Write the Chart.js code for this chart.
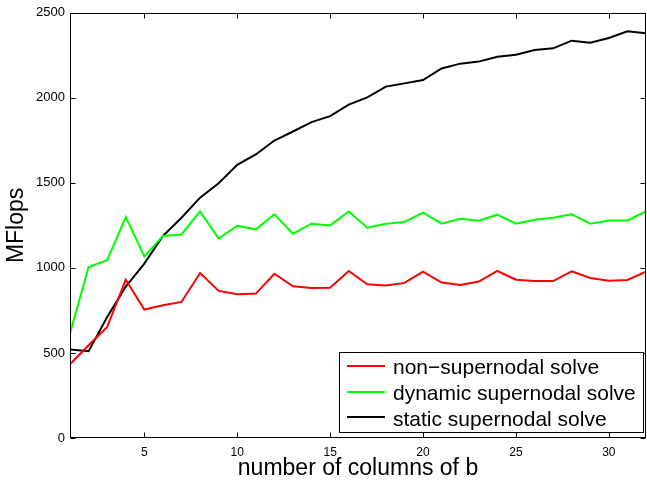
<!DOCTYPE html>
<html>
<head>
<meta charset="utf-8">
<script src="https://cdn.jsdelivr.net/npm/chart.js@4"></script>
<style>
html,body{margin:0;padding:0;background:#fff;}
#wrap{width:647px;height:483px;position:relative;}
</style>
</head>
<body>
<div id="wrap"><canvas id="c" width="647" height="483"></canvas></div>
<script>
const columns = [1,2,3,4,5,6,7,8,9,10,11,12,13,14,15,16,17,18,19,20,21,22,23,24,25,26,27,28,29,30,31,32];
const nonSupernodal = [434,545,653,931,755,781,800,970,865,845,849,966,892,882,884,982,904,896,912,978,914,900,920,982,931,923,923,980,941,925,929,978];
const dynamicSupernodal = [615,1005,1045,1299,1068,1188,1197,1332,1172,1248,1227,1315,1201,1260,1250,1332,1236,1260,1270,1325,1260,1289,1277,1313,1260,1283,1295,1315,1260,1279,1279,1332];
const staticSupernodal = [520,510,712,890,1025,1188,1295,1413,1498,1606,1667,1749,1802,1857,1892,1960,2003,2066,2085,2105,2173,2201,2213,2242,2254,2281,2291,2336,2324,2352,2391,2379];
const seriesLabels = ['non\u2212supernodal solve','dynamic supernodal solve','static supernodal solve'];
const seriesColors = ['#ff0000','#00ff00','#000000'];
const xTicks = [5,10,15,20,25,30];
const yTicks = [0,500,1000,1500,2000,2500];
const xTitle = 'number of columns of b';
const yTitle = 'MFlops';

const FONT = 'Liberation Sans, Arial, Helvetica, sans-serif';

const seriesData = [nonSupernodal, dynamicSupernodal, staticSupernodal];
const datasets = seriesData.map((vals, i) => ({
  label: seriesLabels[i],
  data: columns.map((x, j) => ({x: x, y: vals[j]})),
  borderColor: seriesColors[i],
  backgroundColor: seriesColors[i],
  borderWidth: 2,
  pointRadius: 0,
  tension: 0,
  fill: false
}));

const framePlugin = {
  id: 'frame',
  afterDatasetsDraw(chart) {
    const ctx = chart.ctx;
    const a = chart.chartArea;
    const xs = chart.scales.x, ys = chart.scales.y;
    ctx.save();
    ctx.strokeStyle = '#000';
    ctx.lineWidth = 1;
    const L = Math.round(a.left) + 0.5, R = Math.round(a.right) - 0.5;
    const T = Math.round(a.top) + 0.5, B = Math.round(a.bottom) - 0.5;
    ctx.strokeRect(L, T, R - L, B - T);
    const tl = 5;
    ctx.beginPath();
    xTicks.forEach(v => {
      const px = Math.round(xs.getPixelForValue(v)) + 0.5;
      ctx.moveTo(px, B); ctx.lineTo(px, B - tl);
      ctx.moveTo(px, T); ctx.lineTo(px, T + tl);
    });
    yTicks.forEach(v => {
      const py = Math.round(ys.getPixelForValue(v)) + 0.5;
      ctx.moveTo(L, py); ctx.lineTo(L + tl, py);
      ctx.moveTo(R, py); ctx.lineTo(R - tl, py);
    });
    ctx.stroke();

    // legend box
    const lx = 339, ly = 352, lw = 304, lh = 80;
    ctx.fillStyle = '#fff';
    ctx.fillRect(lx, ly, lw, lh);
    ctx.strokeRect(lx + 0.5, ly + 0.5, lw, lh);
    ctx.font = '21px ' + FONT;
    ctx.textBaseline = 'alphabetic';
    ctx.textAlign = 'left';
    const lineRows = [366, 392, 417];
    const textRows = [374, 400, 425.5];
    chart.data.datasets.forEach((ds, i) => {
      ctx.strokeStyle = ds.borderColor;
      ctx.lineWidth = 2;
      ctx.beginPath();
      ctx.moveTo(347, lineRows[i]); ctx.lineTo(385, lineRows[i]);
      ctx.stroke();
      ctx.fillStyle = '#000';
      ctx.fillText(ds.label, 393, textRows[i]);
    });
    ctx.restore();
  }
};

new Chart(document.getElementById('c'), {
  type: 'line',
  data: { datasets: datasets },
  options: {
    responsive: false,
    animation: false,
    devicePixelRatio: 1,
    layout: { padding: { top: 12, right: 1, left: 0, bottom: 0 } },
    plugins: { legend: { display: false }, tooltip: { enabled: false } },
    scales: {
      x: {
        type: 'linear',
        min: 1, max: 32,
        afterBuildTicks(s) { s.ticks = xTicks.map(v => ({value: v})); },
        afterFit(s) { s.height = 45; },
        grid: { display: false, drawTicks: false },
        border: { display: false },
        ticks: { font: { family: FONT, size: 12 }, color: '#000', padding: 7, maxRotation: 0, callback: v => String(v) },
        title: { display: true, text: xTitle, font: { family: FONT, size: 23 }, color: '#000', padding: { top: 0, bottom: 1 } }
      },
      y: {
        type: 'linear',
        min: 0, max: 2500,
        afterBuildTicks(s) { s.ticks = yTicks.map(v => ({value: v})); },
        afterFit(s) { s.width = 70; },
        grid: { display: false, drawTicks: false },
        border: { display: false },
        ticks: { font: { family: FONT, size: 13 }, color: '#000', padding: 5, callback: v => String(v) },
        title: { display: true, text: yTitle, font: { family: FONT, size: 23 }, color: '#000', padding: { top: 3, bottom: 0 } }
      }
    }
  },
  plugins: [framePlugin]
});
</script>
</body>
</html>
